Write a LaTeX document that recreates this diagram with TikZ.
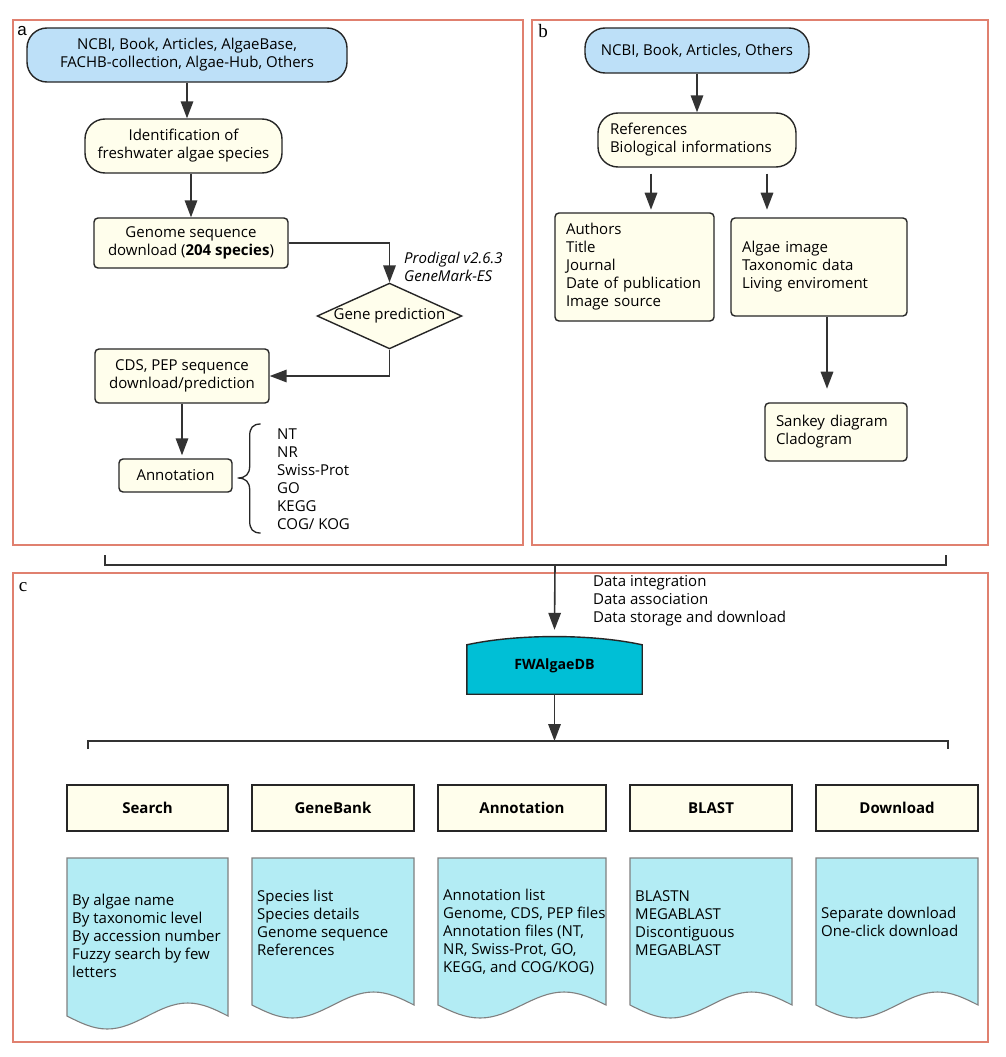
\documentclass[tikz,border=0pt]{standalone}
\usepackage{fontspec}
\setmainfont{Open Sans}
\newfontfamily\serifl{Liberation Serif}
\newfontfamily\sansl{Liberation Sans}
\usetikzlibrary{arrows.meta,shapes.geometric,calc}
\definecolor{panelred}{HTML}{E0806F}
\definecolor{srcblue}{HTML}{BDE0F8}
\definecolor{boxyel}{HTML}{FFFEEC}
\definecolor{docblue}{HTML}{B3ECF4}
\definecolor{dbcyan}{HTML}{00BFD6}
\definecolor{linegray}{HTML}{333333}
\definecolor{docgray}{HTML}{808080}
\newcommand\wavedoc[3]{\draw[docst] (#1,858) -- ({#1+#2},858) -- ({#1+#2},#3) sin ({#1+0.75*#2},{#3-13}) cos ({#1+0.5*#2},#3) sin ({#1+0.25*#2},{#3+13}) cos (#1,#3) -- cycle;}
\begin{document}
\begin{tikzpicture}[x=1pt,y=-1pt,
  every node/.style={font=\fontsize{15}{18}\selectfont},
  arr/.style={draw=linegray,line width=1.6pt,-{Triangle[length=17pt,width=12.5pt]}},
  plain/.style={draw=linegray,line width=1.6pt},
  panel/.style={draw=panelred,line width=1.1pt},
  term/.style={draw=black!85,line width=1.4pt,rounded corners=20pt,inner sep=0pt,align=center},
  rbox/.style={draw=black!85,line width=1.4pt,rounded corners=4pt,fill=boxyel,inner sep=0pt,align=center},
  lbox/.style={draw=black!85,line width=1.4pt,rounded corners=4pt,fill=boxyel,inner xsep=11pt,inner ysep=0pt,align=left},
  hbox/.style={draw=black!85,line width=1.6pt,fill=boxyel,inner sep=0pt,minimum height=46pt,font=\fontsize{15}{18}\selectfont\bfseries},
  docst/.style={draw=docgray,line width=1.1pt,fill=docblue},
  doctext/.style={anchor=west,align=left,inner sep=0pt},
  plab/.style={inner sep=0pt,font=\fontsize{17}{20}\selectfont}
]
\fill[white] (0,0) rectangle (1006,1057);
\useasboundingbox (0,0) rectangle (1006,1057);

% panels
\draw[panel] (13,20) rectangle (523,545);
\draw[panel] (532,20) rectangle (988,545);
\draw[panel] (13,573) rectangle (988,1042);
\node[plab,font=\fontsize{17}{20}\sansl] (la) at (22,31) {a};
\node[plab,font=\fontsize{19}{20}\serifl] (lb) at (543,31) {b};
\node[plab,font=\fontsize{19}{20}\serifl] (lc) at (23,587) {c};

% ---------- panel a ----------
\node[term,fill=srcblue,minimum width=320pt,minimum height=54pt] (src) at (187,55)
  {NCBI, Book, Articles, AlgaeBase,\\FACHB-collection, Algae-Hub, Others};
\node[term,fill=boxyel,minimum width=197pt,minimum height=54pt] (ident) at (183.5,146)
  {Identification of\\freshwater algae species};
\node[rbox,minimum width=194pt,minimum height=50pt] (genome) at (191,243)
  {Genome sequence\\download (\textbf{204 species})};
\node[diamond,draw=black!85,line width=1.4pt,fill=boxyel,aspect=2.2,inner sep=0pt,
  minimum width=143pt,minimum height=64pt] (gp) at (389.5,316) {Gene prediction};
\node[rbox,minimum width=174pt,minimum height=54pt] (cds) at (182,376)
  {CDS, PEP sequence\\download/prediction};
\node[rbox,minimum width=113pt,minimum height=33pt] (annot) at (175.5,475.5) {Annotation};
\node[anchor=west,align=left,inner sep=0pt,font=\fontsize{15}{18}\selectfont\itshape] (tools) at (404,267)
  {Prodigal v2.6.3\\GeneMark-ES};
\node[anchor=west,align=left,inner sep=0pt] (dbs) at (277,479)
  {NT\\NR\\Swiss-Prot\\GO\\KEGG\\COG/ KOG};

\draw[arr] (src.south) -- (src.south |- ident.north);
\draw[arr] (genome.north |- ident.south) -- (genome.north);
\draw[arr] (genome.east) -| (gp.north);
\draw[arr] (gp.south) |- (cds.east);
\draw[arr] (cds.south) -- ($(cds.south |- annot.north)+(0,-3)$);
\coordinate (brtip) at ($(annot.east)+(5,2.5)$);
\draw[line width=1.3pt,black!85] ($(brtip)+(23,-54)$) .. controls ($(brtip)+(15,-54)$) and ($(brtip)+(12,-50)$) .. ($(brtip)+(12,-42)$)
  -- ($(brtip)+(12,-12)$) .. controls ($(brtip)+(12,-4)$) and ($(brtip)+(8,0)$) .. (brtip)
  .. controls ($(brtip)+(8,0)$) and ($(brtip)+(12,4)$) .. ($(brtip)+(12,12)$)
  -- ($(brtip)+(12,43)$) .. controls ($(brtip)+(12,51)$) and ($(brtip)+(15,55)$) .. ($(brtip)+(23,55)$);

% ---------- panel b ----------
\node[term,fill=srcblue,minimum width=224pt,minimum height=45pt] (bsrc) at (697,50.5)
  {NCBI, Book, Articles, Others};
\node[term,fill=boxyel,inner xsep=12pt,text width=174pt,align=left,minimum height=54pt] (refs) at (697,140)
  {References\\\mbox{Biological informations}};
\node[lbox,text width=137pt,minimum height=108pt] (authors) at (634.5,267)
  {Authors\\Title\\Journal\\\mbox{Date of publication}\\\mbox{Image source}};
\node[lbox,text width=154pt,minimum height=98pt] (algae) at (819,267)
  {\mbox{Algae image}\\\mbox{Taxonomic data}\\\mbox{Living enviroment}};
\node[lbox,text width=120pt,minimum height=58pt] (sankey) at (836,432)
  {\mbox{Sankey diagram}\\Cladogram};
\draw[arr] (bsrc.south) -- (bsrc.south |- refs.north);
\draw[arr] ($(refs.south)+(-46,6)$) -- ($(refs.south)+(-46,42)$);
\draw[arr] ($(refs.south)+(70,6)$) -- ($(refs.south)+(70,42)$);
\draw[arr] ($(algae.south)+(8,0)$) -- ($(algae.south)+(8,72)$);

% ---------- panel c ----------
\coordinate (brmid) at (555,565);
\draw[plain] (105,555) -- (105,565) -- (946,565) -- (946,555);
\node[minimum width=175pt,minimum height=49pt,inner sep=0pt] (db) at (554.5,669.5) {};
\draw[draw=black!85,line width=1.4pt,fill=dbcyan] (db.south west) -- (db.north west)
  .. controls ($(db.north west)+(50,-11)$) and ($(db.north east)+(-50,-11)$) .. (db.north east)
  -- (db.south east) -- cycle;
\node[inner sep=0pt,font=\fontsize{14.2}{18}\selectfont\bfseries] (dbt) at (554.5,666) {FWAlgaeDB};
\draw[arr] (brmid) -- ($(db.north)+(0,-15)$);
\node[anchor=west,align=left,inner sep=0pt] (steps) at (593,600.5)
  {Data integration\\Data association\\Data storage and download};
\coordinate (br2mid) at (554.5,741);
\draw[plain] (88,749) -- (88,741) -- (948,741) -- (948,749);
\draw[arr] (db.south) -- (br2mid);

\node[hbox,minimum width=161pt] (hsearch) at (147.5,808) {Search};
\node[hbox,minimum width=162pt] (hgene) at (333,808) {GeneBank};
\node[hbox,minimum width=168pt] (hannot) at (522,808) {Annotation};
\node[hbox,minimum width=162pt] (hblast) at (711,808) {BLAST};
\node[hbox,minimum width=162pt] (hdown) at (897,808) {Download};

\wavedoc{67}{161}{1016}
\wavedoc{252}{162}{1005}
\wavedoc{438}{168}{1005}
\wavedoc{630}{162}{1005}
\wavedoc{816}{162}{1005}

\node[doctext] (tsearch) at (72,936)
  {By algae name\\By taxonomic level\\By accession number\\Fuzzy search by few\\letters};
\node[doctext] (tgene) at (257,923)
  {Species list\\Species details\\Genome sequence\\References};
\node[doctext] (tannot) at (443,932)
  {Annotation list\\Genome, CDS, PEP files\\Annotation files (NT,\\NR, Swiss-Prot, GO,\\KEGG, and COG/KOG)};
\node[doctext] (tblast) at (635,923)
  {BLASTN\\MEGABLAST\\Discontiguous\\MEGABLAST};
\node[doctext] (tdown) at (821,922)
  {Separate download\\One-click download};
\end{tikzpicture}
\end{document}
